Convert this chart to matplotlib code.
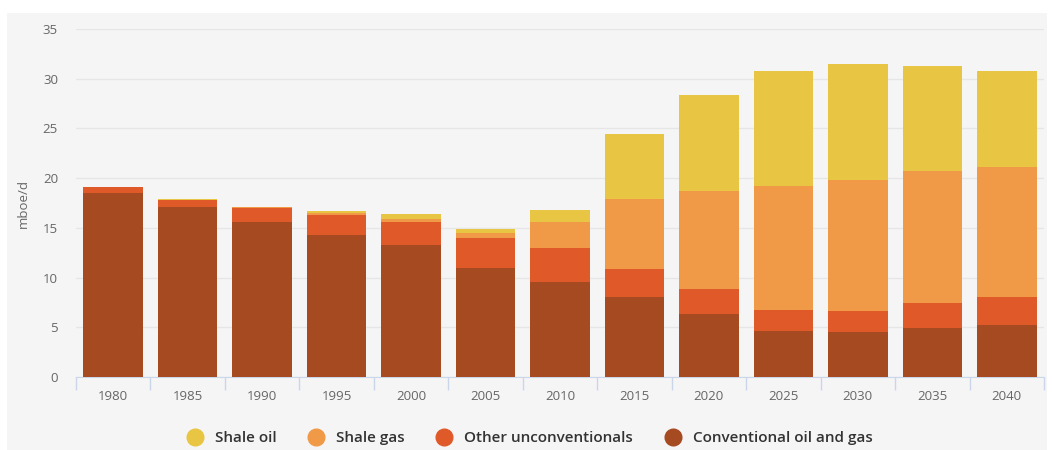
import numpy as np
import matplotlib.pyplot as plt
from matplotlib.patches import Rectangle
from matplotlib.lines import Line2D

plt.rcParams['font.family'] = ['Open Sans', 'DejaVu Sans']

years = ['1980', '1985', '1990', '1995', '2000', '2005', '2010',
         '2015', '2020', '2025', '2030', '2035', '2040']
conventional = [18.5, 17.1, 15.6, 14.3, 13.3, 11.0, 9.6, 8.0, 6.3, 4.65, 4.5, 4.9, 5.2]
other_unconv = [0.6, 0.7, 1.4, 2.0, 2.3, 3.0, 3.4, 2.9, 2.6, 2.05, 2.1, 2.5, 2.8]
shale_gas = [0.0, 0.05, 0.05, 0.2, 0.3, 0.5, 2.6, 7.0, 9.8, 12.5, 13.2, 13.35, 13.15]
shale_oil = [0.0, 0.05, 0.05, 0.2, 0.5, 0.4, 1.2, 6.5, 9.7, 11.6, 11.65, 10.55, 9.65]

series = [
    ('Conventional oil and gas', conventional, '#a64a22'),
    ('Other unconventionals', other_unconv, '#e05a29'),
    ('Shale gas', shale_gas, '#f09a48'),
    ('Shale oil', shale_oil, '#e8c542'),
]

fig = plt.figure(figsize=(10.52, 4.5), dpi=100, facecolor='white')
# light grey panel behind the chart
fig.patches.append(Rectangle((7 / 1052, 0), 1040 / 1052, 437 / 450,
                             transform=fig.transFigure, facecolor='#f5f5f5',
                             edgecolor='none', zorder=-10))

ax = fig.add_axes([76 / 1052, 73 / 450, 968 / 1052, 348 / 450])
ax.set_facecolor('none')

x = np.arange(len(years))
bottom = np.zeros(len(years))
for name, vals, col in series:
    ax.bar(x, vals, width=0.8, bottom=bottom, color=col, label=name, zorder=3)
    bottom += np.array(vals)

ax.set_xlim(-0.5, len(years) - 0.5)
ax.set_ylim(0, 35)
ax.set_yticks(range(0, 36, 5))
ax.yaxis.grid(True, color='#e6e6e6', linewidth=1, zorder=0)
ax.tick_params(axis='y', length=0, labelsize=9.5, labelcolor='#666666', pad=13)

ax.set_xticks(x)
ax.set_xticklabels(years)
ax.set_xticks(np.arange(-0.5, len(years)), minor=True)
ax.tick_params(axis='x', which='major', length=0, labelsize=9.5,
               labelcolor='#666666', pad=9)
ax.tick_params(axis='x', which='minor', length=9, color='#ccd6eb', width=1)

for s in ['top', 'right', 'left']:
    ax.spines[s].set_visible(False)
ax.spines['bottom'].set_color('#ccd6eb')

ax.set_ylabel('mboe/d', fontsize=9.5, color='#666666', labelpad=9)

handles = [Line2D([], [], marker='o', linestyle='none', markersize=12,
                  markerfacecolor=col, markeredgecolor=col)
           for _, _, col in series[::-1]]
labels = [name for name, _, _ in series[::-1]]
fig.legend(handles, labels, loc='center', bbox_to_anchor=(526 / 1052, 1 - 438 / 450),
           ncol=4, frameon=False, handletextpad=0.3, columnspacing=1.6,
           prop={'size': 11, 'weight': 'semibold'}, labelcolor='#333333')

fig.savefig('out.png', dpi=100, facecolor='white')
